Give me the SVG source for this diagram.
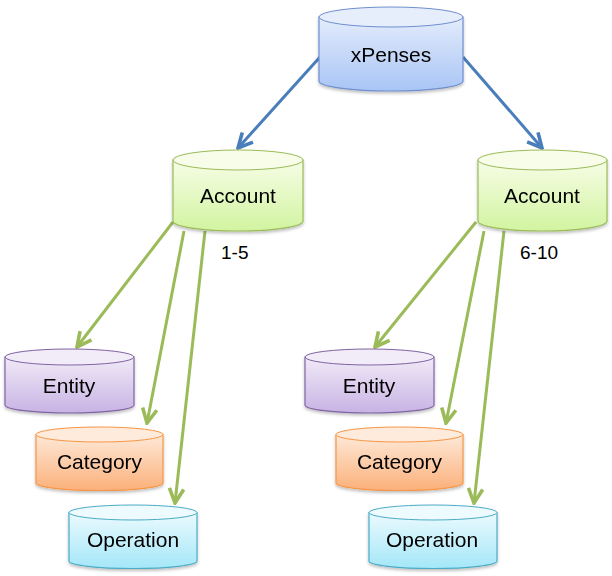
<svg xmlns="http://www.w3.org/2000/svg" width="612" height="576" viewBox="0 0 612 576">
<defs>
<linearGradient id="gBlue" x1="0" y1="0" x2="0" y2="1"><stop offset="0" stop-color="#e3ecfc"/><stop offset="1" stop-color="#a9c5f5"/></linearGradient>
<linearGradient id="gGreen" x1="0" y1="0" x2="0" y2="1"><stop offset="0" stop-color="#f6fde6"/><stop offset="1" stop-color="#d2f4a0"/></linearGradient>
<linearGradient id="gPurple" x1="0" y1="0" x2="0" y2="1"><stop offset="0" stop-color="#f0eaf7"/><stop offset="1" stop-color="#c8b3e4"/></linearGradient>
<linearGradient id="gOrange" x1="0" y1="0" x2="0" y2="1"><stop offset="0" stop-color="#fee9d8"/><stop offset="1" stop-color="#fbb07a"/></linearGradient>
<linearGradient id="gCyan" x1="0" y1="0" x2="0" y2="1"><stop offset="0" stop-color="#ebfafe"/><stop offset="1" stop-color="#a4e7f8"/></linearGradient>
<filter id="sh" x="-10%" y="-10%" width="120%" height="130%"><feDropShadow dx="0" dy="2" stdDeviation="1.5" flood-color="#000" flood-opacity="0.25"/></filter>
<marker id="ab" viewBox="0 0 10 10" refX="9" refY="5" markerWidth="6" markerHeight="6" orient="auto" markerUnits="strokeWidth"><path d="M1,1 L9,5 L1,9" fill="none" stroke="#4a7ebb" stroke-width="2"/></marker>
<marker id="ag" viewBox="0 0 10 10" refX="9" refY="5" markerWidth="6" markerHeight="6" orient="auto" markerUnits="strokeWidth"><path d="M1,1 L9,5 L1,9" fill="none" stroke="#9bbb59" stroke-width="2"/></marker>
</defs>
<style>
text{font-family:"Liberation Sans",Arial,sans-serif;fill:#000;text-anchor:middle}
.lbl{font-size:21px}
.num{font-size:19px;text-anchor:start}
.blue{stroke:#6f8fcf}
.green{stroke:#9bbb59}
.purple{stroke:#8064a2}
.orange{stroke:#f79646}
.cyan{stroke:#4bacc6}
.cyl{stroke-width:1.2}
.top{stroke-width:1}
.cb{stroke:#4a7ebb;stroke-width:3;fill:none;marker-end:url(#ab)}
.cg{stroke:#9bbb59;stroke-width:3;fill:none;marker-end:url(#ag)}
</style>
<g id="connectors">
<line class="cb" x1="320" y1="57" x2="238" y2="148"/>
<line class="cb" x1="463" y1="57" x2="542" y2="148"/>
<line class="cg" x1="173" y1="222" x2="77" y2="347"/>
<line class="cg" x1="184" y1="231" x2="147" y2="423"/>
<line class="cg" x1="205" y1="231" x2="175" y2="503"/>
<line class="cg" x1="476" y1="222" x2="375" y2="347"/>
<line class="cg" x1="484" y1="231" x2="446" y2="423"/>
<line class="cg" x1="504" y1="231" x2="474" y2="503"/>
</g>
<g id="xpenses" filter="url(#sh)">
<path class="cyl blue" fill="url(#gBlue)" d="M319,17 L319,81 A72,10 0 0 0 463,81 L463,17 Z"/>
<ellipse class="top blue" fill="#e6eefc" cx="391" cy="17" rx="72" ry="10"/>
<text class="lbl" x="391" y="62">xPenses</text>
</g>
<g id="account1" filter="url(#sh)">
<path class="cyl green" fill="url(#gGreen)" d="M173,160 L173,221 A65,10 0 0 0 303,221 L303,160 Z"/>
<ellipse class="top green" fill="#f7fde9" cx="238" cy="160" rx="65" ry="10"/>
<text class="lbl" x="238" y="203">Account</text>
</g>
<g id="account2" filter="url(#sh)">
<path class="cyl green" fill="url(#gGreen)" d="M478,160 L478,221 A64.5,10 0 0 0 607,221 L607,160 Z"/>
<ellipse class="top green" fill="#f7fde9" cx="542.5" cy="160" rx="64.5" ry="10"/>
<text class="lbl" x="542" y="203">Account</text>
</g>
<text class="num" x="221" y="259">1-5</text>
<text class="num" x="520" y="259">6-10</text>
<g id="entity1" filter="url(#sh)">
<path class="cyl purple" fill="url(#gPurple)" d="M5,357 L5,405 A64.5,8 0 0 0 134,405 L134,357 Z"/>
<ellipse class="top purple" fill="#f1ecf8" cx="69.5" cy="357" rx="64.5" ry="8"/>
<text class="lbl" x="69" y="393">Entity</text>
</g>
<g id="category1" filter="url(#sh)">
<path class="cyl orange" fill="url(#gOrange)" d="M36,434.5 L36,483 A63.5,7.5 0 0 0 163,483 L163,434.5 Z"/>
<ellipse class="top orange" fill="#feebdc" cx="99.5" cy="434.5" rx="63.5" ry="7.5"/>
<text class="lbl" x="99.5" y="469">Category</text>
</g>
<g id="operation1" filter="url(#sh)">
<path class="cyl cyan" fill="url(#gCyan)" d="M69,512.5 L69,561 A64,7.5 0 0 0 197,561 L197,512.5 Z"/>
<ellipse class="top cyan" fill="#edfafe" cx="133" cy="512.5" rx="64" ry="7.5"/>
<text class="lbl" x="133" y="547">Operation</text>
</g>
<g id="entity2" filter="url(#sh)">
<path class="cyl purple" fill="url(#gPurple)" d="M305,357 L305,405 A64.5,8 0 0 0 434,405 L434,357 Z"/>
<ellipse class="top purple" fill="#f1ecf8" cx="369.5" cy="357" rx="64.5" ry="8"/>
<text class="lbl" x="369" y="393">Entity</text>
</g>
<g id="category2" filter="url(#sh)">
<path class="cyl orange" fill="url(#gOrange)" d="M336,434.5 L336,483 A63.5,7.5 0 0 0 463,483 L463,434.5 Z"/>
<ellipse class="top orange" fill="#feebdc" cx="399.5" cy="434.5" rx="63.5" ry="7.5"/>
<text class="lbl" x="399.5" y="469">Category</text>
</g>
<g id="operation2" filter="url(#sh)">
<path class="cyl cyan" fill="url(#gCyan)" d="M369,512.5 L369,561 A64,7.5 0 0 0 497,561 L497,512.5 Z"/>
<ellipse class="top cyan" fill="#edfafe" cx="433" cy="512.5" rx="64" ry="7.5"/>
<text class="lbl" x="432" y="547">Operation</text>
</g>
</svg>
